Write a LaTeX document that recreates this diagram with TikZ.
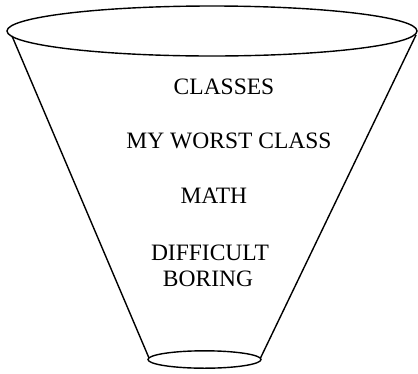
\documentclass[tikz,border=0pt]{standalone}
\usepackage{fontspec}
\setmainfont{Liberation Serif}
\begin{document}
\begin{tikzpicture}[x=1pt,y=-1pt,
  rim/.style={draw=black,line width=1.4pt},
  label/.style={anchor=base,inner sep=0pt,font=\fontsize{23.5}{26}\selectfont}]
\useasboundingbox (0,0) rectangle (418,373);
% top rim
\draw[rim] (212,31) ellipse [x radius=205, y radius=25];
% bottom rim
\draw[rim] (204.5,359.5) ellipse [x radius=56.5, y radius=8.7];
% sides
\coordinate (tl) at (12,36);
\coordinate (bl) at (149,358);
\coordinate (tr) at (416,35);
\coordinate (br) at (260.5,358);
\draw[rim] (tl) -- (bl);
\draw[rim] (tr) -- (br);
% texts
\node[label] (classes) at (224,94) {CLASSES};
\node[label] (worst) at (229,148.3) {MY WORST CLASS};
\node[label] (math) at (213.8,203.3) {MATH};
\node[label] (diff) at (210,260) {DIFFICULT};
\node[label] (boring) at (208,286) {BORING};
\end{tikzpicture}
\end{document}
